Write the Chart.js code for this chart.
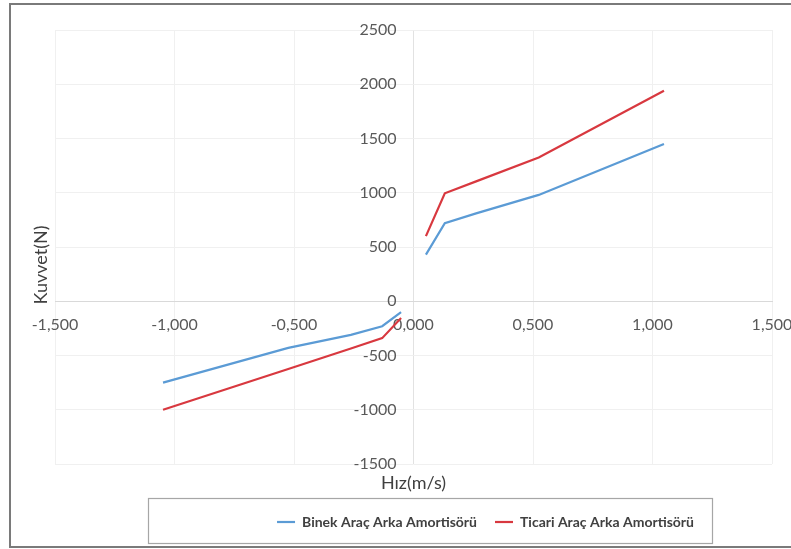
<!DOCTYPE html>
<html>
<head>
<meta charset="utf-8">
<script src="https://cdn.jsdelivr.net/npm/chart.js@4.4.0/dist/chart.umd.min.js"></script>
<style>
  html, body { margin: 0; padding: 0; background: #ffffff; }
  #wrap { width: 791px; height: 549px; position: relative; }
</style>
</head>
<body>
<div id="wrap"><canvas id="c"></canvas></div>
<script>
// ---- Data ----
const velocities = [-1.048, -0.524, -0.262, -0.131, -0.052, 0.052, 0.131, 0.262, 0.524, 1.048];
const binekForce  = [-750, -430, -310, -230, -100, 430, 720, 810, 980, 1450];
const ticariForce = [-1000, -625, -435, -340, -155, 600, 995, 1105, 1325, 1940];
const seriesNames = ['Binek Araç Arka Amortisörü', 'Ticari Araç Arka Amortisörü'];
const xTickLabels = ['-1,500', '-1,000', '-0,500', '0,000', '0,500', '1,000', '1,500'];
const yTickLabels = ['-1500', '-1000', '-500', '0', '500', '1000', '1500', '2000', '2500'];
const xTitle = 'Hız(m/s)';
const yTitle = 'Kuvvet(N)';

// Build point lists; the measured curve has a break between the negative and positive branch
function buildPoints(xs, ys) {
  const pts = [];
  for (let i = 0; i < xs.length; i++) {
    if (i > 0 && xs[i - 1] < 0 && xs[i] > 0) pts.push({ x: 0, y: null });
    pts.push({ x: xs[i], y: ys[i] });
  }
  return pts;
}

const frames = {
  id: 'frames',
  afterLayout(chart) {
    const lg = chart.legend;
    if (lg) { lg.left = 148; lg.right = 823; }
  },
  afterDraw(chart) {
    const ctx = chart.ctx;
    ctx.save();
    // outer chart border
    ctx.strokeStyle = '#7a7a7a';
    ctx.lineWidth = 2;
    ctx.strokeRect(10, 4, 790, 543);
    // legend frame
    ctx.strokeStyle = '#a6a6a6';
    ctx.lineWidth = 1.2;
    ctx.strokeRect(148.5, 498.5, 564, 45);
    // y axis title
    ctx.fillStyle = '#404040';
    ctx.font = '18px Lato';
    ctx.textAlign = 'center';
    ctx.textBaseline = 'middle';
    ctx.translate(41, 265);
    ctx.rotate(-Math.PI / 2);
    ctx.fillText(yTitle, 0, 0);
    ctx.restore();
  }
};

new Chart(document.getElementById('c'), {
  type: 'line',
  data: {
    datasets: [
      { label: seriesNames[0], data: buildPoints(velocities, binekForce),
        borderColor: '#5b9bd5', backgroundColor: '#5b9bd5', borderWidth: 2.2,
        pointRadius: 0, tension: 0, spanGaps: false },
      { label: seriesNames[1], data: buildPoints(velocities, ticariForce),
        borderColor: '#d8383f', backgroundColor: '#d8383f', borderWidth: 2.2,
        pointRadius: 0, tension: 0, spanGaps: false }
    ]
  },
  options: {
    responsive: true,
    maintainAspectRatio: false,
    animation: false,
    layout: { padding: { left: 55, right: 19, top: 30, bottom: 10 } },
    scales: {
      x: {
        type: 'linear',
        position: { y: 0 },
        min: -1.5, max: 1.5,
        afterFit: (s) => { s.paddingLeft = 0; s.paddingRight = 0; },
        ticks: {
          stepSize: 0.5,
          padding: 14,
          color: '#595959',
          font: { family: 'Lato', size: 16 },
          callback: (v, i) => xTickLabels[i]
        },
        grid: {
          color: (c) => (c.tick && c.tick.value === 0) ? '#e2e2e2' : '#f0f0f0',
          lineWidth: 1, drawTicks: false
        },
        border: { display: true, color: '#d9d9d9', width: 1 }
      },
      y: {
        type: 'linear',
        // labels sit a little left of the vertical zero line
        position: { x: -0.071 },
        min: -1500, max: 2500,
        afterFit: (s) => { s.paddingTop = 0; s.paddingBottom = 0; },
        ticks: {
          stepSize: 500,
          color: '#595959',
          font: { family: 'Lato', size: 16 },
          callback: (v, i) => yTickLabels[i]
        },
        grid: {
          color: (c) => (c.tick && c.tick.value === 0) ? '#d9d9d9' : '#f0f0f0',
          lineWidth: 1, drawTicks: false
        },
        border: { display: false }
      }
    },
    plugins: {
      tooltip: { enabled: false },
      title: {
        display: true,
        text: xTitle,
        position: 'bottom',
        weight: 500,
        color: '#404040',
        font: { family: 'Lato', size: 18, weight: 'normal' },
        padding: { top: 8, bottom: 3.4 }
      },
      legend: {
        display: true,
        position: 'bottom',
        labels: {
          usePointStyle: true,
          pointStyle: 'line',
          pointStyleWidth: 18,
          padding: 18,
          color: '#404040',
          font: { family: 'Lato', size: 14, weight: 'bold' }
        }
      }
    }
  },
  plugins: [frames]
});
</script>
</body>
</html>
